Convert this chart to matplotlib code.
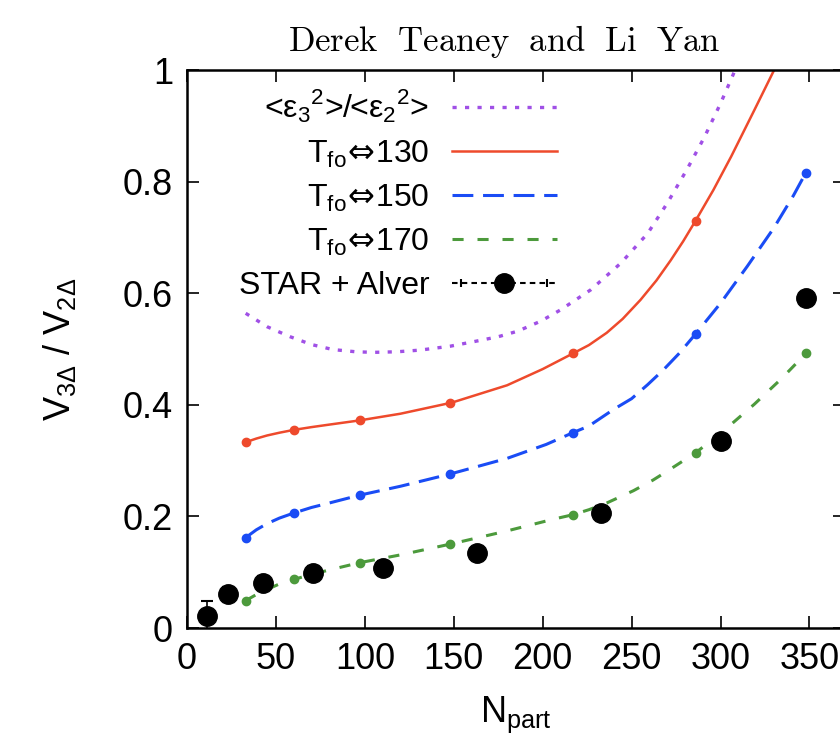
import matplotlib
matplotlib.use('Agg')
import matplotlib.pyplot as plt
from matplotlib.lines import Line2D
from matplotlib.legend_handler import HandlerLine2D, HandlerTuple
from matplotlib.ticker import FuncFormatter

plt.rcParams['font.family'] = ['Liberation Sans', 'DejaVu Sans']
plt.rcParams['lines.scale_dashes'] = False

# model points (markers)
npart = [33, 60, 97, 148, 217, 286, 348]
t130 = [0.333, 0.355, 0.372, 0.404, 0.492, 0.730]
t150 = [0.162, 0.206, 0.238, 0.276, 0.350, 0.527, 0.816]
t170 = [0.049, 0.087, 0.117, 0.151, 0.203, 0.314, 0.492]

# curves
t130_cx = [33, 39, 45, 52, 60, 70, 80, 97, 120, 149, 180, 200, 217, 226, 236, 245, 255, 264,
           272, 279, 286, 296, 306, 319, 330, 340]
t130_cy = [0.333, 0.3395, 0.345, 0.350, 0.355, 0.360, 0.3645, 0.372, 0.384, 0.404, 0.435, 0.464,
           0.492, 0.507, 0.529, 0.554, 0.588, 0.623, 0.659, 0.693, 0.730, 0.785, 0.845, 0.928,
           0.999, 1.07]
t150_cx = [33, 39, 45, 52, 60, 70, 80, 97, 120, 148, 180, 202, 217, 226, 240, 250, 259, 268,
           277, 286, 300, 315, 330, 341, 348]
t150_cy = [0.162, 0.176, 0.187, 0.197, 0.206, 0.216, 0.224, 0.238, 0.254, 0.276, 0.304, 0.329,
           0.350, 0.362, 0.392, 0.411, 0.436, 0.463, 0.493, 0.527, 0.582, 0.648, 0.717, 0.775,
           0.816]
t170_cx = [33, 39, 45, 52, 60, 70, 80, 97, 120, 149, 180, 206, 217, 226, 236, 251, 262, 270,
           286, 302, 319, 334, 348]
t170_cy = [0.049, 0.060, 0.069, 0.079, 0.087, 0.096, 0.104, 0.117, 0.131, 0.151, 0.174, 0.195,
           0.203, 0.212, 0.224, 0.246, 0.265, 0.281, 0.314, 0.354, 0.401, 0.446, 0.492]
ecc_x = [33, 45, 58, 70, 82, 95, 105, 118, 131, 148, 161, 175, 186, 199, 210, 227, 244, 259,
         270, 281, 291, 300, 307, 312]
ecc_y = [0.564, 0.540, 0.522, 0.508, 0.499, 0.495, 0.494, 0.495, 0.498, 0.505, 0.513, 0.522,
         0.532, 0.550, 0.570, 0.606, 0.654, 0.707, 0.761, 0.821, 0.880, 0.940, 0.991, 1.03]

# STAR + Alver data
star_x = [11, 23, 43, 71, 110, 163, 233, 300, 348]
star_y = [0.021, 0.061, 0.081, 0.099, 0.108, 0.134, 0.206, 0.336, 0.591]
star_err = [0.028, 0.012, 0.012, 0.012, 0.012, 0.012, 0.012, 0.012, 0.012]

red = '#ee4a2c'
blue = '#1a4cf5'
green = '#4c9a3c'
purple = '#a050e6'

fig = plt.figure(figsize=(8.4, 7.4), dpi=100)
ax = fig.add_axes([187/840, 112/740, 658/840, 558/740])

l_ecc, = ax.plot(ecc_x, ecc_y, color=purple, lw=2.4, ls=(0, (3, 6)))
l130, = ax.plot(t130_cx, t130_cy, color=red, lw=1.8)
l150, = ax.plot(t150_cx, t150_cy, color=blue, lw=2.2, ls=(0, (15, 7)))
l170, = ax.plot(t170_cx, t170_cy, color=green, lw=2.2, ls=(0, (8, 10)))
ax.plot(npart[:len(t130)], t130, 'o', color=red, ms=6)
ax.plot(npart, t150, 'o', color=blue, ms=6)
ax.plot(npart, t170, 'o', color=green, ms=6)
ax.errorbar(star_x, star_y, yerr=star_err, fmt='o', color='k', ms=14, capsize=4,
            elinewidth=1.2, capthick=1.5, zorder=5)

ax.set_xlim(0, 370)
ax.set_ylim(0, 1)
ax.set_xticks([0, 50, 100, 150, 200, 250, 300, 350])
ax.set_yticks([0, 0.2, 0.4, 0.6, 0.8, 1])
ax.yaxis.set_major_formatter(FuncFormatter(lambda v, p: '%g' % v))
ax.tick_params(direction='in', top=True, right=True, length=8.5, width=1.2,
               labelsize=26, pad=10)
for s in ax.spines.values():
    s.set_linewidth(1.8)

ax.set_xlabel(r'$\mathregular{N_{part}}$', fontsize=26, labelpad=13)
ax.set_ylabel(r'$\mathregular{V_{3\Delta}}$ / $\mathregular{V_{2\Delta}}$', fontsize=26)
ax.yaxis.set_label_coords(-0.165, 0.5)

fig.text(504/840, 1 - 42/740, r'$\mathrm{Derek\ \ Teaney\ \ and\ \ Li\ \ Yan}$',
         math_fontfamily='cm', ha='center', va='center', fontsize=25)

# legend
dash = Line2D([], [], color='k', lw=1.5, ls=(0, (4, 3)))
caps = Line2D([], [], color='k', ls='none', marker='|', ms=6, mew=1.5)
dot = Line2D([], [], color='k', ls='none', marker='o', ms=14)
handles = [l_ecc, l130, l150, l170, (dash, caps, dot)]
labels = [r'<ε$_\mathregular{3}{}^\mathregular{2}$>/<ε$_\mathregular{2}{}^\mathregular{2}$>',
          r'T$_\mathregular{fo}\!\Leftrightarrow\!$130',
          r'T$_\mathregular{fo}\!\Leftrightarrow\!$150',
          r'T$_\mathregular{fo}\!\Leftrightarrow\!$170',
          'STAR + Alver']
ax.legend(handles, labels, loc='upper right', bbox_to_anchor=((557-187)/658, 1 - 18/558),
          frameon=False, markerfirst=False, fontsize=23, handlelength=3.3,
          handletextpad=0.7, labelspacing=0.4, borderpad=0, borderaxespad=0,
          handler_map={caps: HandlerLine2D(numpoints=2), tuple: HandlerTuple(ndivide=1)})

fig.savefig('out.png', dpi=100)
